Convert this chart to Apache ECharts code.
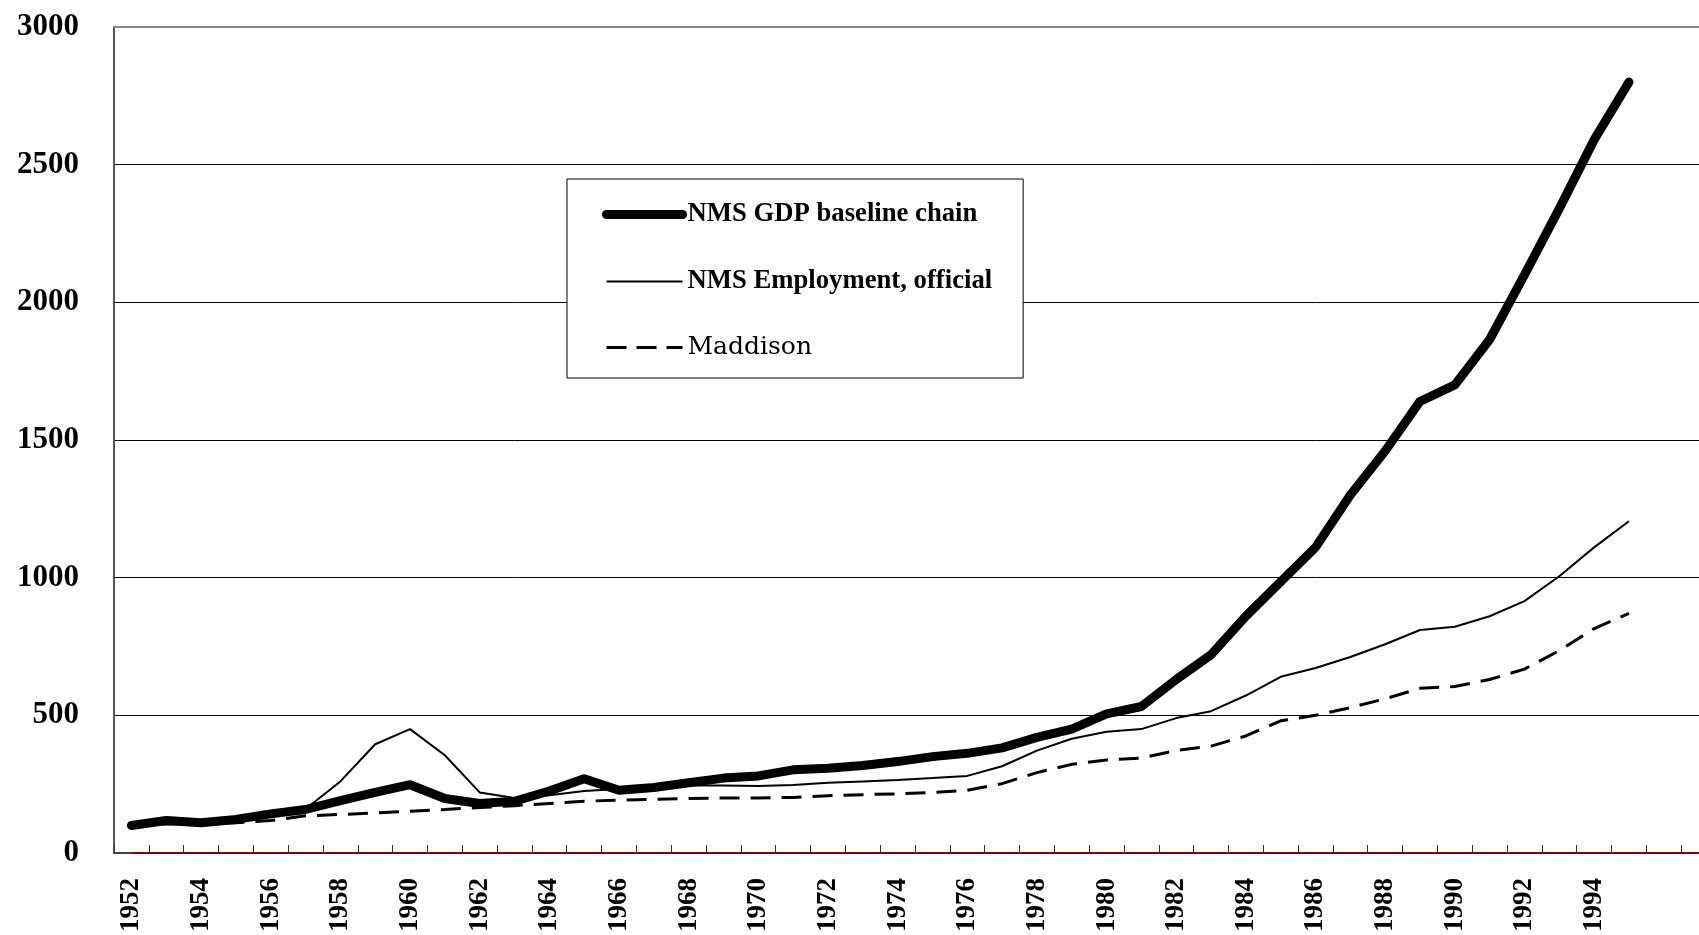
<!DOCTYPE html>
<html>
<head>
<meta charset="utf-8">
<script src="https://cdn.jsdelivr.net/npm/echarts@6/dist/echarts.min.js"></script>
<style>
html,body{margin:0;padding:0;background:#fff;overflow:hidden;width:1699px;height:935px;}
#chart{width:1716px;height:935px;}
</style>
</head>
<body>
<div id="chart"></div>
<script>
var categories = ['1952','1953','1954','1955','1956','1957','1958','1959','1960','1961',
'1962','1963','1964','1965','1966','1967','1968','1969','1970','1971',
'1972','1973','1974','1975','1976','1977','1978','1979','1980','1981',
'1982','1983','1984','1985','1986','1987','1988','1989','1990','1991',
'1992','1993','1994','1995','',''];

var gdpBaselineChain = [100,118,110,122,142,158,190,220,248,198,
180,188,225,270,228,238,255,272,280,302,
308,318,332,350,362,382,420,450,505,532,
630,720,860,985,1110,1300,1460,1640,1700,1865,
2100,2340,2590,2800];

var employmentOfficial = [100,112,108,118,135,160,260,395,450,355,
220,200,210,225,232,238,245,245,243,247,
255,260,265,272,280,315,372,415,440,450,
490,515,572,640,672,712,758,810,822,860,
915,1005,1110,1205];

var maddison = [100,105,108,110,118,135,140,145,152,158,
165,172,180,188,192,195,198,200,200,202,
208,212,215,220,228,252,292,322,338,345,
372,388,425,480,500,528,560,598,605,630,
668,735,815,870];

var zeroLine = [0,0,0,0,0,0,0,0,0,0,0,0,0,0,0,0,0,0,0,0,0,0,0,0,0,0,0,0,0,0,0,0,0,0,0,0,0,0,0,0,0,0,0,0,0,0];

var yTicks = {min:0, max:3000, interval:500};

var chart = echarts.init(document.getElementById('chart'), null, {renderer:'canvas'});
var serif = '"Liberation Serif", "Times New Roman", serif';
chart.setOption({
  animation:false,
  backgroundColor:'#fff',
  grid:{left:114, right:0, top:27, bottom:76, containLabel:false},
  legend:{
    orient:'vertical', left:567, top:179,
    padding:[22,31,18,35],
    itemWidth:76, itemHeight:14, itemGap:40,
    backgroundColor:'#fff', borderColor:'#000', borderWidth:1,
    selectedMode:false,
    itemStyle:{opacity:0},
    textStyle:{fontFamily:serif, fontSize:26.7, fontWeight:'bold', color:'#000'},
    data:[
      {name:'NMS GDP baseline chain', itemStyle:{opacity:0}, lineStyle:{color:'#000', width:9, cap:'round', type:'solid'}},
      {name:'NMS Employment, official', itemStyle:{opacity:0}, lineStyle:{color:'#000', width:2, type:'solid'}},
      {name:'Maddison', itemStyle:{opacity:0}, lineStyle:{color:'#000', width:3, type:[20,10]},
       textStyle:{fontFamily:'"DejaVu Serif", serif', fontWeight:'normal', fontSize:25, color:'#000'}}
    ]
  },
  xAxis:[{
    type:'category', data:categories, boundaryGap:true,
    axisLine:{lineStyle:{color:'#444', width:2}},
    axisTick:{show:true, inside:true, length:8, interval:0, lineStyle:{color:'#333', width:1}},
    axisLabel:{rotate:90, interval:1, margin:25, fontFamily:serif, fontSize:27, fontWeight:'bold', color:'#000'},
    splitLine:{show:false}
  },{
    type:'category', data:categories, position:'top', boundaryGap:true,
    axisLine:{show:true, lineStyle:{color:'#888', width:2}},
    axisTick:{show:false}, axisLabel:{show:false}
  }],
  yAxis:{
    type:'value', min:yTicks.min, max:yTicks.max, interval:yTicks.interval,
    axisLine:{show:true, lineStyle:{color:'#555', width:2}},
    axisTick:{show:false},
    axisLabel:{margin:35, fontFamily:serif, fontSize:31, fontWeight:'bold', color:'#000',
      formatter:function(v){return String(v);}},
    splitLine:{show:true, lineStyle:{color:'#000', width:1}}
  },
  series:[
    {name:'NMS GDP baseline chain', type:'line', data:gdpBaselineChain, symbol:'none',
     lineStyle:{color:'#000', width:9, cap:'round', join:'round'}, itemStyle:{color:'#000'}, z:5},
    {name:'NMS Employment, official', type:'line', data:employmentOfficial, symbol:'none',
     lineStyle:{color:'#000', width:2}, itemStyle:{color:'#000'}, z:4},
    {name:'Maddison', type:'line', data:maddison, symbol:'none',
     lineStyle:{color:'#000', width:3, type:[20,11]}, itemStyle:{color:'#000'}, z:3},
    {name:'zero', type:'line', data:zeroLine, symbol:'none',
     lineStyle:{color:'#8b0000', width:2}, itemStyle:{color:'#8b0000'}, z:6}
  ]
});
</script>
</body>
</html>
